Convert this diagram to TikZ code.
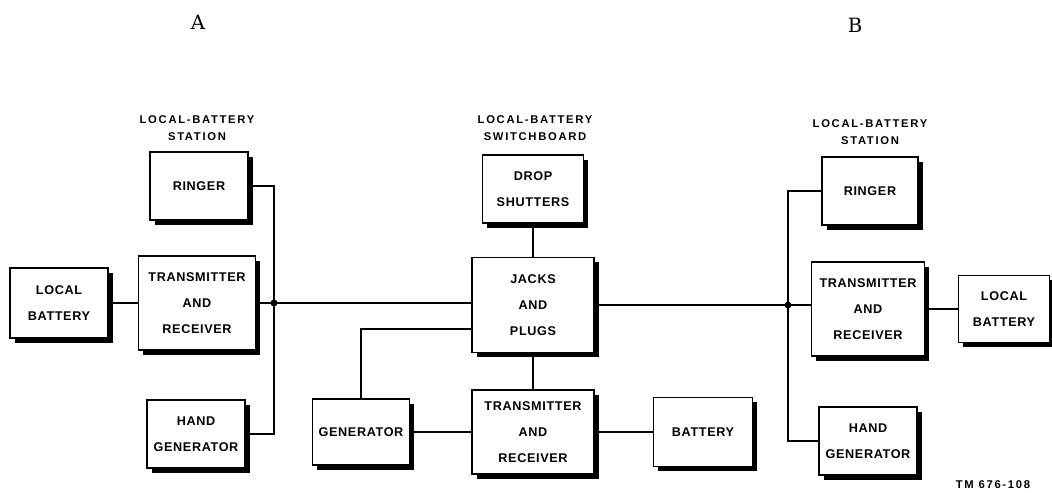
\documentclass[tikz,border=0pt]{standalone}
\usepackage{fontspec}
\setmainfont{Liberation Sans}
\newfontfamily\boxfont[LetterSpace=5]{Liberation Sans}
\newfontfamily\headfont[LetterSpace=15]{Liberation Sans}
\newfontfamily\letterfont{DejaVu Serif}
\usepackage{tikz}
\usetikzlibrary{shadows, positioning, calc}

\begin{document}
\begin{tikzpicture}[
    x=0.025cm, y=-0.025cm,
    block/.style={draw, line width=1.1pt, fill=white, align=center,
        font=\boxfont\bfseries\fontsize{9}{18.5}\selectfont,
        drop shadow={shadow xshift=0.12cm, shadow yshift=-0.12cm, fill=black, opacity=1}},
    wire/.style={line width=1.1pt},
    dot/.style={circle, fill, inner sep=0pt, minimum size=5pt},
    title/.style={align=center, font=\headfont\bfseries\fontsize{8}{12.5}\selectfont}
]
    \useasboundingbox (0,0) rectangle (1052,493);

    % Headings
    \node[font=\letterfont\fontsize{14}{16}\selectfont] (lblA) at (198,22) {A};
    \node[font=\letterfont\fontsize{14}{16}\selectfont] (lblB) at (855,25) {B};
    \node[title] (headA) at (197,128) {LOCAL-BATTERY\\STATION};
    \node[title] (headC) at (535,128) {LOCAL-BATTERY\\SWITCHBOARD};
    \node[title] (headB) at (870,132) {LOCAL-BATTERY\\STATION};

    % Station A
    \node[block, minimum width=2.45cm, minimum height=1.75cm] (lbA) at (59,303) {LOCAL\\BATTERY};
    \node[block, minimum width=2.45cm, minimum height=1.7cm] (ringA) at (199,186) {RINGER};
    \node[block, minimum width=2.92cm, minimum height=2.35cm] (txA) at (197,303) {TRANSMITTER\\AND\\RECEIVER};
    \node[block, minimum width=2.45cm, minimum height=1.7cm] (hgA) at (196,434) {HAND\\GENERATOR};

    % Switchboard
    \node[block, minimum width=2.52cm, minimum height=1.7cm] (drop) at (533,189) {DROP\\SHUTTERS};
    \node[block, minimum width=3.05cm, minimum height=2.38cm] (jacks) at (533,305) {JACKS\\AND\\PLUGS};
    \node[block, minimum width=3.05cm, minimum height=2.1cm] (txC) at (533,432) {TRANSMITTER\\AND\\RECEIVER};
    \node[block, minimum width=2.42cm, minimum height=1.65cm] (gen) at (361,432) {GENERATOR};
    \node[block, minimum width=2.48cm, minimum height=1.72cm] (batt) at (703,432) {BATTERY};

    % Station B
    \node[block, minimum width=2.4cm, minimum height=1.7cm] (ringB) at (870,191) {RINGER};
    \node[block, minimum width=2.82cm, minimum height=2.35cm] (txB) at (868,309) {TRANSMITTER\\AND\\RECEIVER};
    \node[block, minimum width=2.28cm, minimum height=1.68cm] (lbB) at (1004,309) {LOCAL\\BATTERY};
    \node[block, minimum width=2.45cm, minimum height=1.7cm] (hgB) at (868,441) {HAND\\GENERATOR};

    % Connections
    \coordinate (jA) at (274,303);
    \coordinate (jB) at (788,305);
    \draw[wire] (lbA) -- (txA);
    \draw[wire] (txA.east) -- (jA) -- (jA -| jacks.west);
    \draw[wire] (ringA.east) -| (jA) |- (hgA.east);
    \draw[wire] (drop) -- (jacks);
    \draw[wire] (jacks) -- (txC);
    \draw[wire] ([yshift=-0.6cm]jacks.west) -| (gen.north);
    \draw[wire] (gen) -- (txC);
    \draw[wire] (txC) -- (batt);
    \draw[wire] (jacks.east |- jB) -- (jB) -- (jB -| txB.west);
    \draw[wire] (ringB.west) -| (jB) |- (hgB.west);
    \draw[wire] (txB) -- (lbB);
    \node[dot] (dotA) at (jA) {};
    \node[dot] (dotB) at (jB) {};

    % Figure number
    \node[font=\headfont\bfseries\fontsize{8}{10}\selectfont] (fig) at (993,485) {TM 676-108};
\end{tikzpicture}
\end{document}
